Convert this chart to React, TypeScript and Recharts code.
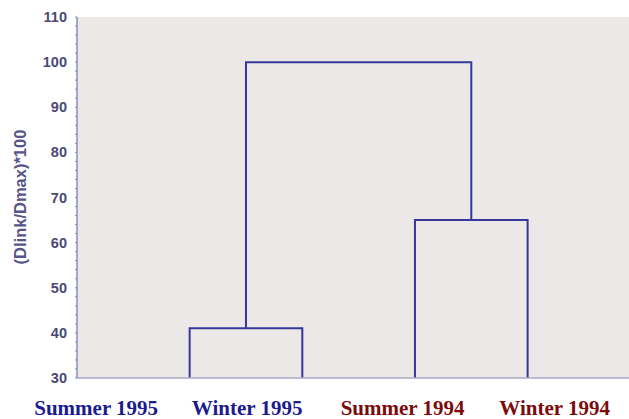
import { LineChart, Line, XAxis, YAxis, CartesianGrid, Label } from "recharts";

// leaves in dendrogram order, placed at x = 1..4
const leafNames = ["Summer 1995", "Winter 1995", "Summer 1994", "Winter 1994"];
const leafColors = ["#1c1c8e", "#1c1c8e", "#7c0b0b", "#7c0b0b"];
// where the season labels sit along the x scale (they are not under the leaves)
const labelPos = [0.17, 1.51, 2.89, 4.24];
const leafPos = [1, 2, 3, 4];
// merges: [left x, right x, joined height, left base, right base]
const mergeLeft = [1, 3, 1.5];
const mergeRight = [2, 4, 3.5];
const mergeHeight = [41, 65, 100];
const mergeLeftBase = [30, 30, 41];
const mergeRightBase = [30, 30, 65];
const yTicks = [30, 32, 34, 36, 38, 40, 42, 44, 46, 48, 50, 52, 54, 56, 58, 60, 62, 64, 66, 68, 70, 72, 74, 76, 78, 80, 82, 84, 86, 88, 90, 92, 94, 96, 98, 100, 102, 104, 106, 108, 110];
const gridTicks = [40, 50, 60, 70, 80, 90, 100];

const links = mergeHeight.map((h, i) => [
  { x: mergeLeft[i], y: mergeLeftBase[i] },
  { x: mergeLeft[i], y: h },
  { x: mergeRight[i], y: h },
  { x: mergeRight[i], y: mergeRightBase[i] },
]);

const axisText = "#4a4a74";

function YTick(props: any) {
  const { x, y, payload } = props;
  if (payload.value % 10 !== 0) return <g />;
  return (
    <text x={x - 6} y={y} dy={5} textAnchor="end" fill={axisText} fontSize={14.5} fontWeight="bold" fontFamily="Liberation Sans, Arial, sans-serif">
      {payload.value}
    </text>
  );
}

function SeasonTick(props: any) {
  const { x, index } = props;
  return (
    <text x={x} y={415} textAnchor="middle" fill={leafColors[index]} fontSize={21} fontWeight="bold" fontFamily="Liberation Serif, 'Times New Roman', serif">
      {leafNames[index]}
    </text>
  );
}

export default function App() {
  return (
    <div style={{ position: "fixed", left: 0, top: 0, width: 629, height: 419, background: "#fff" }}>
      <LineChart width={629} height={419} margin={{ top: 17, right: 0, bottom: 0, left: 0 }}>
        <rect x={77} y={17} width={552} height={361} fill="#ece8e8" />
        <CartesianGrid horizontal vertical={false} horizontalValues={gridTicks} stroke="#d4d0dc" strokeDasharray="1 2" xAxisId="top" yAxisId="y" />
        <XAxis xAxisId="top" orientation="top" type="number" dataKey="x" domain={[0, 4.9]} ticks={leafPos} height={0} mirror tickSize={3} tick={() => <g />} axisLine={{ stroke: "#8c8cc0", strokeWidth: 1.5 }} tickLine={{ stroke: "#8c8cc0" }} allowDataOverflow />
        <XAxis xAxisId="lab" orientation="bottom" type="number" dataKey="x" domain={[0, 4.9]} ticks={labelPos} height={41} tickLine={false} tick={SeasonTick} axisLine={{ stroke: "#a8a8c8", strokeWidth: 1.5 }} allowDataOverflow />
        <YAxis yAxisId="y" type="number" domain={[30, 110]} ticks={yTicks} width={77} interval={0} tickSize={2} tick={YTick} axisLine={{ stroke: "#8c8cc0", strokeWidth: 1.5 }} tickLine={{ stroke: "#8c8cc0" }} allowDataOverflow>
          <Label
            content={() => (
              <text x={22} y={197} transform="rotate(-90 22 197)" textAnchor="middle" dominantBaseline="middle" fill="#55558a" fontSize={16.5} fontWeight="bold" fontFamily="Liberation Sans, Arial, sans-serif">
                (Dlink/Dmax)*100
              </text>
            )}
          />
        </YAxis>
        {links.map((pts, i) => (
          <Line key={i} xAxisId="top" yAxisId="y" data={pts} dataKey="y" type="linear" stroke="#37379a" strokeWidth={2} dot={false} activeDot={false} isAnimationActive={false} />
        ))}
      </LineChart>
    </div>
  );
}
